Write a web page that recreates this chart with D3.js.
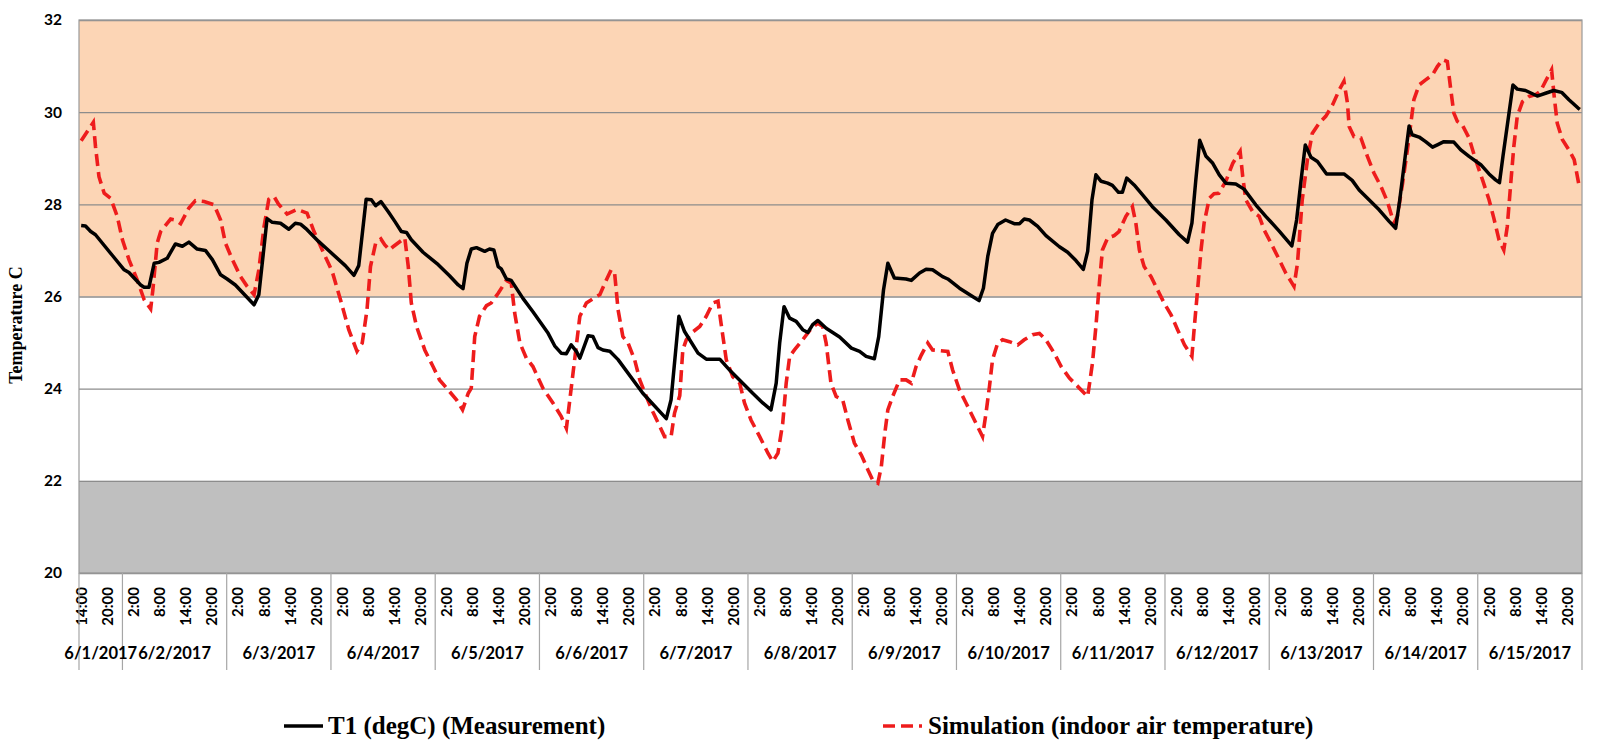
<!DOCTYPE html>
<html>
<head>
<meta charset="utf-8">
<script src="https://cdn.jsdelivr.net/npm/d3@7"></script>
<style>
  body { margin: 0; background: #fff; }
  svg { display: block; }
</style>
</head>
<body>
<script>
// hours are counted from 6/1/2017 14:00 (one point per hour, last point 6/15 23:00)
var days = ["6/1/2017", "6/2/2017", "6/3/2017", "6/4/2017", "6/5/2017", "6/6/2017", "6/7/2017",
    "6/8/2017", "6/9/2017", "6/10/2017", "6/11/2017", "6/12/2017", "6/13/2017", "6/14/2017", "6/15/2017"];
var dayEdges = [-0.5, 9.5, 33.5, 57.5, 81.5, 105.5, 129.5, 153.5, 177.5, 201.5, 225.5, 249.5, 273.5, 297.5, 321.5, 345.5];
var tickHours = d3.range(0, 346, 6);
var yTicks = [20, 22, 24, 26, 28, 30, 32];

// [hour, degC]
var measured = [[0,27.54],[1,27.53],[2.2,27.41],[3.3,27.34],[7.2,26.89],[9.9,26.58],[11,26.52],[13.7,26.25],[14.5,26.2],[15.6,26.2],
    [16.8,26.72],[17.9,26.74],[19.8,26.83],[21.7,27.14],[23.3,27.09],[24.8,27.18],[26.7,27.03],[28.6,27.0],[30.2,26.8],[32.1,26.47],
    [33.6,26.38],[35.5,26.25],[39.8,25.82],[40.9,26.04],[42.8,27.69],[44,27.61],[45.9,27.59],[47.8,27.46],[49.3,27.59],[50.5,27.57],
    [52,27.45],[54.7,27.19],[56.6,27.03],[60.8,26.67],[62.8,26.46],[63.9,26.67],[65.6,28.11],[66.8,28.1],[67.8,27.97],[69,28.06],
    [70.7,27.84],[72.2,27.63],[73.7,27.41],[74.9,27.39],[76,27.23],[78.7,26.96],[82.2,26.69],[84.8,26.45],[86.8,26.25],[87.9,26.17],
    [88.8,26.72],[89.8,27.03],[91,27.06],[92.9,26.98],[94,27.03],[95,27.01],[96,26.65],[96.7,26.6],[97.9,26.38],[99,26.35],
    [101.7,25.96],[104,25.67],[107.5,25.2],[109,24.93],[110.5,24.77],[111.7,24.76],[112.8,24.95],[114,24.81],[114.8,24.66],[116.7,25.15],
    [117.8,25.13],[119,24.89],[120.1,24.84],[121.7,24.81],[123.6,24.63],[129.3,23.9],[134.7,23.35],[135.8,23.76],[137.6,25.57],[138.9,25.24],
    [142,24.77],[143.9,24.64],[147,24.64],[149.6,24.37],[152.3,24.12],[154.6,23.9],[156.9,23.69],[158.8,23.54],[160,24.12],[160.8,24.99],
    [161.8,25.78],[163.1,25.53],[164.6,25.46],[166.1,25.28],[167.3,25.22],[168.4,25.39],[169.6,25.48],[171.5,25.31],[174.6,25.12],[177.3,24.88],
    [179.2,24.81],[180.7,24.7],[182.6,24.65],[183.6,25.13],[184.7,26.14],[185.7,26.72],[187.2,26.4],[189.9,26.38],[191.1,26.35],[193,26.51],
    [194.5,26.59],[196,26.58],[198.3,26.43],[199.5,26.38],[202.2,26.18],[205.2,26.0],[206.7,25.91],[207.7,26.18],[208.7,26.87],[209.8,27.37],
    [211,27.56],[212.8,27.66],[214.8,27.58],[216,27.58],[217.1,27.68],[218.3,27.66],[220.2,27.52],[222.1,27.32],[225.2,27.08],[227.1,26.96],
    [229,26.78],[230.7,26.59],[231.7,26.98],[232.7,28.1],[233.6,28.64],[234.8,28.5],[236.3,28.46],[237.4,28.41],[238.8,28.26],[239.7,28.26],
    [240.7,28.57],[242.4,28.42],[244.3,28.21],[246.6,27.95],[249.7,27.66],[252.8,27.34],[254.7,27.18],[255.7,27.59],[256.6,28.53],[257.5,29.39],
    [258.9,29.05],[260.5,28.89],[262,28.64],[263.5,28.46],[265.8,28.44],[267.7,28.33],[270.4,27.99],[272.7,27.74],[275.8,27.42],[278.7,27.1],
    [279.8,27.66],[280.8,28.5],[281.8,29.29],[283.1,29.02],[284.6,28.93],[286.7,28.66],[290.7,28.66],[292.6,28.52],[294.2,28.31],[298.8,27.88],
    [301.1,27.63],[302.6,27.48],[303.5,28.06],[304.8,29.04],[305.7,29.7],[306.4,29.51],[308,29.46],[309.5,29.36],[311.1,29.24],[312.2,29.29],
    [313.7,29.36],[316,29.35],[317.6,29.18],[319.5,29.04],[322.2,28.86],[324.1,28.66],[325.6,28.53],[326.5,28.47],[327.3,29.04],[328.7,29.98],
    [329.6,30.59],[330.6,30.5],[332.5,30.47],[335.2,30.35],[337.1,30.41],[339,30.47],[340.8,30.43],[342.5,30.27],[344.6,30.09],[345,30.06]];

var simulated = [[0,29.38],[2.8,29.78],[3.3,29.25],[4.1,28.6],[5.3,28.24],[6.8,28.13],[8.3,27.74],[9.5,27.23],[11,26.8],[12.9,26.36],
    [14.5,25.93],[16,25.73],[16.5,26.14],[17.5,27.16],[18.3,27.41],[20.6,27.68],[21.7,27.66],[22.9,27.58],[24.8,27.92],[26.3,28.08],
    [28.3,28.06],[30.6,27.99],[32.1,27.66],[33.2,27.16],[34.8,26.8],[36.7,26.43],[38.2,26.22],[39.8,26.04],[40.9,26.58],[42.1,27.52],
    [43.2,28.11],[44.4,28.17],[45.4,28.01],[47.4,27.79],[49.7,27.89],[52,27.81],[53.6,27.41],[55.5,27.01],[57.8,26.54],[59.7,25.93],
    [61.6,25.28],[63.5,24.81],[64.7,24.99],[65.8,25.71],[66.6,26.65],[67.8,27.16],[69,27.25],[69.9,27.12],[71,27.01],[71.8,27.08],
    [74.5,27.27],[75.3,26.65],[76,25.86],[77.2,25.35],[79.1,24.84],[81,24.48],[82.5,24.19],[84.5,23.97],[86.4,23.76],[87.8,23.54],
    [89.1,23.9],[89.8,24.01],[90.6,25.13],[91.7,25.57],[93.3,25.8],[94.4,25.86],[96,26.07],[97.9,26.35],[99,26.29],[99.8,25.64],
    [101,24.99],[102.5,24.66],[104,24.48],[106.3,24.01],[108.6,23.69],[110.5,23.4],[111.7,23.14],[112.4,23.69],[113.6,24.63],[114.8,25.57],
    [116.3,25.86],[118.6,26.0],[119.4,26.04],[120.9,26.36],[122,26.58],[122.8,26.51],[123.6,25.71],[124.7,25.13],[125.9,24.99],[127.4,24.63],
    [128.6,24.19],[130.1,23.83],[131.6,23.5],[133.2,23.18],[134.3,22.96],[135.8,22.96],[136.6,23.47],[137.8,23.85],[138.5,24.84],[139.3,25.06],
    [140.4,25.2],[142.4,25.35],[143.9,25.57],[145.4,25.86],[146.6,25.9],[147.3,25.42],[148.5,24.63],[150,24.26],[151.6,24.12],[152.7,23.69],
    [154.2,23.32],[156.2,22.96],[158.1,22.6],[159.2,22.42],[160.4,22.6],[161.5,23.25],[162.3,24.12],[163.1,24.7],[164.2,24.84],[166.1,25.06],
    [168.1,25.31],[169.6,25.42],[170.7,25.35],[171.5,24.99],[172.6,24.12],[173.8,23.83],[175.3,23.76],[176.5,23.32],[178,22.82],[179.6,22.56],
    [181.1,22.24],[182.2,22.02],[183.4,21.95],[184.2,22.31],[185,23.03],[185.7,23.54],[186.8,23.83],[188.4,24.19],[189.9,24.19],[191.1,24.12],
    [192.2,24.48],[193.4,24.73],[194.9,24.99],[196,24.84],[199.5,24.81],[200.6,24.41],[202.2,23.97],[203.7,23.69],[205.2,23.4],[207.5,22.96],
    [208.3,23.47],[209.1,24.05],[209.8,24.63],[211,24.99],[212.1,25.06],[213.7,25.02],[215.6,24.95],[217.1,25.06],[219,25.17],[220.6,25.2],
    [222.1,25.06],[224,24.77],[225.6,24.48],[227.5,24.23],[229.4,24.05],[231.7,23.83],[232.8,24.55],[233.6,25.35],[234.4,26.29],[235.1,27.01],
    [236.3,27.27],[237.8,27.32],[238.9,27.41],[240.5,27.74],[242,27.95],[242.8,27.59],[243.6,27.01],[244.7,26.65],[246.3,26.43],[247.8,26.14],
    [249.3,25.86],[250.9,25.6],[252.4,25.28],[254,24.95],[255.7,24.7],[256.2,25.28],[257,26.14],[257.8,27.01],[258.5,27.59],[259.7,28.13],
    [260.8,28.23],[261.9,28.24],[263.5,28.5],[265.1,28.89],[266.8,29.15],[267.4,28.6],[268.1,28.1],[269.7,27.84],[271.2,27.74],[272.3,27.45],
    [273.9,27.16],[275.8,26.8],[277.3,26.51],[279.2,26.22],[280,26.72],[281.1,28.1],[282.3,28.97],[283.4,29.54],[285,29.76],[286.5,29.91],
    [288.1,30.16],[289.6,30.48],[290.7,30.67],[291.5,30.2],[291.9,29.69],[293,29.47],[294.6,29.44],[296.1,29.04],[297.6,28.68],[299.2,28.39],
    [300.7,28.06],[302.2,27.59],[303,27.74],[304.2,28.46],[305.3,29.18],[306.1,29.76],[306.8,30.27],[308,30.59],[309.5,30.7],[311.1,30.81],
    [312.2,30.99],[313.4,31.14],[314.5,31.1],[315.3,30.48],[316,29.98],[316.8,29.8],[317.9,29.73],[319.5,29.44],[321,28.97],[322.6,28.53],
    [324.1,28.1],[325.2,27.7],[326.4,27.23],[327.5,27.01],[328.3,27.52],[329.1,28.46],[329.8,29.25],[330.6,29.91],[331.8,30.23],[333.3,30.34],
    [334.8,30.38],[335.9,30.45],[337.1,30.67],[338.5,30.92],[339.1,30.34],[339.8,29.76],[341,29.4],[342.5,29.18],[343.7,28.97],[344.8,28.42]];

var comfortBand = [26, 32];
var coldBand = [20, 22];

var margin = {top: 20, right: 18, bottom: 177, left: 79};
var W = 1600, H = 750;
var w = W - margin.left - margin.right;
var h = H - margin.top - margin.bottom;

var svg = d3.select('body').append('svg')
    .attr('width', W)
    .attr('height', H);

var g = svg.append('g')
    .attr('transform', 'translate(' + margin.left + ',' + margin.top + ')');

var x = d3.scaleLinear().domain([-0.5, 345.5]).range([0, w]);
var y = d3.scaleLinear().domain([20, 32]).range([h, 0]);

// shaded bands
g.append('rect')
    .attr('x', 0).attr('width', w)
    .attr('y', y(comfortBand[1])).attr('height', y(comfortBand[0]) - y(comfortBand[1]))
    .attr('fill', '#fcd5b5');
g.append('rect')
    .attr('x', 0).attr('width', w)
    .attr('y', y(coldBand[1])).attr('height', y(coldBand[0]) - y(coldBand[1]))
    .attr('fill', '#bfbfbf');

// y axis + gridlines
var yAxis = g.append('g')
    .call(d3.axisLeft(y).tickValues(yTicks).tickSize(-w).tickPadding(17));
yAxis.select('.domain').remove();
yAxis.selectAll('line').attr('stroke', '#8c8c8c').attr('stroke-width', 1.3);
yAxis.selectAll('text')
    .style('font-family', 'Lato, sans-serif')
    .style('font-weight', 'bold')
    .style('font-size', '15.5px')
    .attr('fill', '#000');

// plot border
g.append('rect')
    .attr('width', w).attr('height', h)
    .attr('fill', 'none')
    .attr('stroke', '#9a9a9a')
    .attr('stroke-width', 1.2);

// x axis: hour labels
var xAxis = g.append('g')
    .attr('transform', 'translate(0,' + h + ')')
    .call(d3.axisBottom(x).tickValues(tickHours).tickSize(0)
        .tickFormat((d) => ((14 + d) % 24) + ':00'));
xAxis.select('.domain').remove();
xAxis.selectAll('text')
    .attr('transform', 'rotate(-90)')
    .attr('x', -14)
    .attr('y', 0)
    .attr('dy', '0.36em')
    .style('text-anchor', 'end')
    .style('font-family', 'Lato, sans-serif')
    .style('font-weight', 'bold')
    .style('font-size', '15px')
    .attr('fill', '#000');

// day separators and date labels
g.selectAll('.daysep')
    .data(dayEdges)
    .enter()
    .append('line')
    .attr('class', 'daysep')
    .attr('x1', (d) => x(d)).attr('x2', (d) => x(d))
    .attr('y1', h).attr('y2', h + 97)
    .attr('stroke', '#a6a6a6')
    .attr('stroke-width', 1.2);

g.selectAll('.daylabel')
    .data(days)
    .enter()
    .append('text')
    .attr('class', 'daylabel')
    .attr('x', (d, i) => (x(dayEdges[i]) + x(dayEdges[i + 1])) / 2)
    .attr('y', h + 86)
    .style('text-anchor', 'middle')
    .style('font-family', 'Lato, sans-serif')
    .style('font-weight', 'bold')
    .style('font-size', '16.5px')
    .text((d) => d);

// y title
svg.append('text')
    .attr('transform', 'translate(22,325) rotate(-90)')
    .style('text-anchor', 'middle')
    .style('font-family', '"Liberation Serif", serif')
    .style('font-weight', 'bold')
    .style('font-size', '18px')
    .text('Temperature C');

// series
var line = d3.line()
    .x((d) => x(d[0]))
    .y((d) => y(d[1]));

g.append('path')
    .datum(simulated)
    .attr('d', line)
    .attr('fill', 'none')
    .attr('stroke', '#ee1c1c')
    .attr('stroke-width', 3.6)
    .attr('stroke-dasharray', '12,6');

g.append('path')
    .datum(measured)
    .attr('d', line)
    .attr('fill', 'none')
    .attr('stroke', '#000')
    .attr('stroke-width', 3.5)
    .attr('stroke-linejoin', 'round');

// legend
var legend = svg.append('g').attr('transform', 'translate(0,726)');
legend.append('line')
    .attr('x1', 284).attr('x2', 323)
    .attr('stroke', '#000').attr('stroke-width', 3.5);
legend.append('text')
    .attr('x', 328).attr('y', 8)
    .style('font-family', '"Liberation Serif", serif')
    .style('font-weight', 'bold')
    .style('font-size', '25px')
    .text('T1 (degC) (Measurement)');
legend.append('line')
    .attr('x1', 883).attr('x2', 922)
    .attr('stroke', '#ee1c1c').attr('stroke-width', 3.6)
    .attr('stroke-dasharray', '12,6');
legend.append('text')
    .attr('x', 928).attr('y', 8)
    .style('font-family', '"Liberation Serif", serif')
    .style('font-weight', 'bold')
    .style('font-size', '25px')
    .text('Simulation (indoor air temperature)');
</script>
</body>
</html>
